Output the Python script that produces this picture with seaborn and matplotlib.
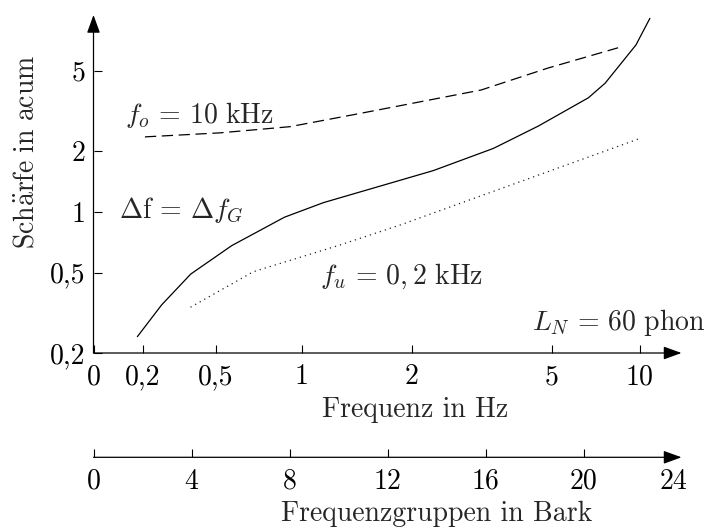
import numpy as np
import pandas as pd
import matplotlib
matplotlib.use("Agg")
import matplotlib.pyplot as plt
import matplotlib.transforms as mtransforms
import seaborn as sns

# Sharpness of band-pass noise versus critical-band rate (Bark), L_N = 60 phon
# Δf = Δf_G : critical-band wide noise
bark_cb = [1.79, 2.78, 3.97, 5.64, 7.79, 9.38, 13.87, 16.32, 18.16, 20.20, 20.88, 22.14, 22.71]
acum_cb = [0.241, 0.346, 0.492, 0.680, 0.940, 1.11, 1.60, 2.06, 2.66, 3.67, 4.33, 6.70, 9.08]

# f_o = 10 kHz : fixed upper cut-off, lower cut-off varied
bark_fo = [2.10, 5.16, 8.02, 10.88, 15.82, 18.55, 21.41]
acum_fo = [2.35, 2.46, 2.64, 3.07, 4.01, 5.15, 6.49]

# f_u = 0,2 kHz : fixed lower cut-off, upper cut-off varied
bark_fu = [3.96, 6.52, 10.06, 12.51, 22.31]
acum_fu = [0.337, 0.505, 0.685, 0.860, 2.31]

# frequency ticks (kHz) and their critical-band rate
freq_labels = ["0", "0,2", "0,5", "1", "2", "5", "10"]
freq_ticks_bark = [0.0, 2.0, 5.0, 8.5, 13.0, 18.7, 22.3]

bark_ticks = [0, 4, 8, 12, 16, 20, 24]
sharp_ticks = [0.2, 0.5, 1, 2, 5]
sharp_labels = ["0,2", "0,5", "1", "2", "5"]

sns.set_theme(style="white")
plt.rcParams.update({
    "font.family": "serif",
    "font.serif": ["cmr10"],
    "mathtext.fontset": "cm",
    "axes.unicode_minus": False,
    "axes.formatter.use_mathtext": True,
    "font.size": 20,
})

W, H = 708, 531
fig = plt.figure(figsize=(W / 100, H / 100), dpi=100)
ax = fig.add_axes([93.5 / W, 178 / H, 588 / W, 338 / H])

curves = pd.concat([
    pd.DataFrame({"bark": bark_cb, "acum": acum_cb, "kind": "cb"}),
    pd.DataFrame({"bark": bark_fo, "acum": acum_fo, "kind": "fo"}),
    pd.DataFrame({"bark": bark_fu, "acum": acum_fu, "kind": "fu"}),
])
styles = {"cb": dict(linestyle="-", color="black", lw=0.9),
          "fo": dict(linestyle=(0, (9, 4.5)), color="black", lw=0.9),
          "fu": dict(linestyle=(0, (1, 3.2)), color="#222222", lw=0.9)}
for kind, sub in curves.groupby("kind"):
    sns.lineplot(data=sub, x="bark", y="acum", ax=ax, legend=False, **styles[kind])

ax.set_yscale("log")
ax.set_xlim(0, 24)
ax.set_ylim(0.2, 9.43)
ax.set_yticks(sharp_ticks)
ax.set_yticklabels(sharp_labels)
ax.yaxis.set_minor_locator(matplotlib.ticker.NullLocator())
ax.set_xticks(freq_ticks_bark)
ax.set_xticklabels(freq_labels)
ax.tick_params(axis="both", which="major", direction="in", length=6, width=0.8,
               color="black", labelsize=20, labelcolor="black",
               bottom=True, left=True, top=False, right=False)
ax.tick_params(axis="x", pad=8)
ax.tick_params(axis="y", pad=6)
for s in ax.spines.values():
    s.set_visible(False)
ax.grid(False)
ax.set_facecolor("none")

arrow = dict(arrowstyle="-|>,head_length=0.55,head_width=0.2", lw=0.9, color="black",
             shrinkA=0, shrinkB=0, mutation_scale=20)
ax.annotate("", xy=(1, 0), xytext=(0, 0), xycoords="axes fraction",
            textcoords="axes fraction", arrowprops=arrow, annotation_clip=False)
ax.annotate("", xy=(0, 1), xytext=(0, 0), xycoords="axes fraction",
            textcoords="axes fraction", arrowprops=arrow, annotation_clip=False)

ax.set_xlabel("Frequenz in Hz", fontsize=20, va="baseline")
ax.xaxis.set_label_coords(0.5476, -0.19)
ax.set_ylabel(r"$\mathrm{Sch\ddot{a}rfe\ in\ acum}$", fontsize=20)
ax.yaxis.label.set_rotation_mode("default")
ax.yaxis.label.set_horizontalalignment("center")
ax.yaxis.label.set_verticalalignment("center")
ax.yaxis.set_label_coords(-0.115, 0.596)

ax.text(1.29, 2.75, r"$f_o\,=\,10\ \mathrm{kHz}$", fontsize=20, va="baseline", ha="left")
ax.text(1.06, 0.928, r"$\Delta\mathrm{f}\,=\,\Delta f_G$", fontsize=20, va="baseline", ha="left")
ax.text(9.25, 0.443, r"$f_u\,=\,0,2\ \mathrm{kHz}$", fontsize=20, va="baseline", ha="left")
ax.text(24.96, 0.26, r"$L_N\,=\,60\ \mathrm{phon}$", fontsize=20, va="baseline", ha="right")

# critical-band rate axis
axb = fig.add_axes([93.5 / W, (H - 457.3) / H, 588 / W, 0])
axb.set_xlim(0, 24)
axb.set_yticks([])
axb.set_xticks(bark_ticks)
axb.set_xticklabels([str(b) for b in bark_ticks])
axb.tick_params(axis="x", direction="in", length=6, width=0.8, color="black",
                labelsize=20, labelcolor="black", pad=8, bottom=True, top=False)
# the last label sits just left of the arrow head; no tick mark under the arrow
last_tick = axb.xaxis.get_major_ticks()[-1]
last_tick.tick1line.set_visible(False)
last_tick.label1.set_transform(last_tick.label1.get_transform() +
                               mtransforms.ScaledTranslation(-8 / 100, 0, fig.dpi_scale_trans))
for s in axb.spines.values():
    s.set_visible(False)
axb.set_facecolor("none")
axb.annotate("", xy=(1, 0), xytext=(0, 0), xycoords="axes fraction",
             textcoords="axes fraction", arrowprops=arrow, annotation_clip=False)
axb.set_xlabel("Frequenzgruppen in Bark", fontsize=20, va="baseline")
axb.xaxis.set_label_coords(
    (437 - 93.5) / 588, (H - 521) / H,
    transform=mtransforms.blended_transform_factory(axb.transAxes, fig.transFigure))

fig.savefig("out.png", dpi=100)
